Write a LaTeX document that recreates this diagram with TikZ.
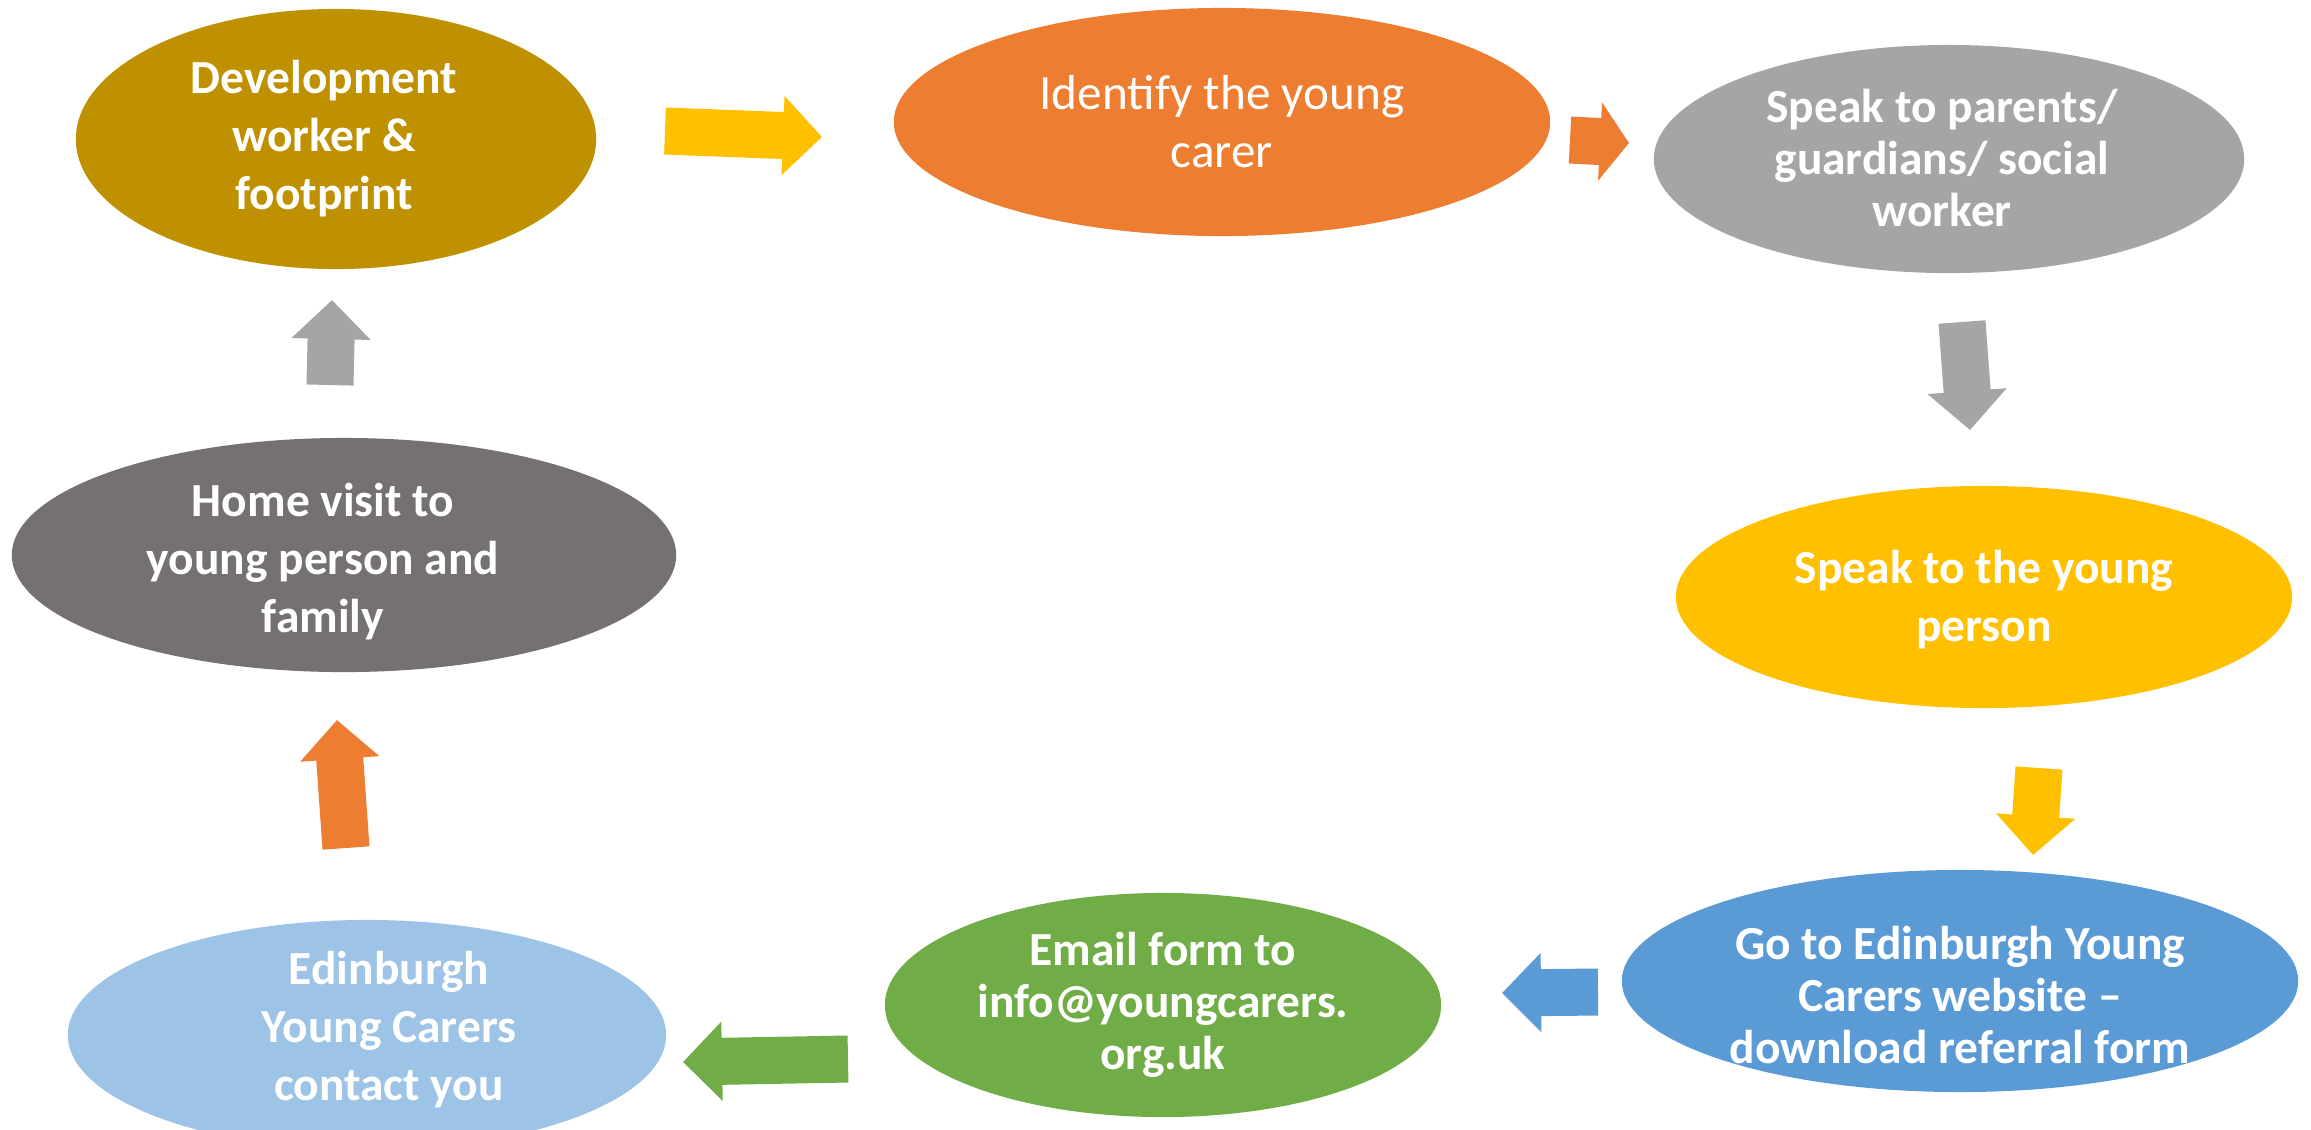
\documentclass[tikz,border=0pt]{standalone}
\usepackage{fontspec}
\setmainfont{Carlito}
\usetikzlibrary{shapes.geometric,arrows.meta}
\definecolor{gold}{HTML}{BF9000}
\definecolor{orange}{HTML}{ED7D31}
\definecolor{grey}{HTML}{A5A5A5}
\definecolor{amber}{HTML}{FFC000}
\definecolor{blue}{HTML}{5B9BD5}
\definecolor{green}{HTML}{70AD47}
\definecolor{lightblue}{HTML}{9DC3E6}
\definecolor{darkgrey}{HTML}{767171}

\begin{document}
\begin{tikzpicture}[x=0.01cm,y=-0.01cm,
    bubble/.style={ellipse, inner sep=0pt, outer sep=0pt},
    txt/.style={text=white, align=center, inner sep=0pt, font=\bfseries\fontsize{13.5}{16.5}\selectfont},
    txttight/.style={txt, font=\bfseries\fontsize{13.5}{14.7}\selectfont},
    blockarrow/.style={line width=4.7mm, -{Triangle[length=#1, width=7.7mm]}},
    blockarrow/.default=3.9mm]
    \clip (0,0) rectangle (2311,1129);

    % steps
    \node[bubble, fill=gold, minimum width=5.2cm, minimum height=2.6cm] (dev) at (336,139) {};
    \node[bubble, fill=orange, minimum width=6.56cm, minimum height=2.28cm] (idf) at (1222,122) {};
    \node[bubble, fill=grey, minimum width=5.9cm, minimum height=2.28cm] (spk) at (1949,159) {};
    \node[bubble, fill=amber, minimum width=6.16cm, minimum height=2.22cm] (ypn) at (1984,597) {};
    \node[bubble, fill=blue, minimum width=6.76cm, minimum height=2.22cm] (web) at (1960,981) {};
    \node[bubble, fill=green, minimum width=5.56cm, minimum height=2.24cm] (eml) at (1163,1005) {};
    \node[bubble, fill=lightblue, minimum width=5.98cm, minimum height=2.3cm] (eyc) at (367,1035) {};
    \node[bubble, fill=darkgrey, minimum width=6.64cm, minimum height=2.34cm] (hom) at (344,555) {};

    \node[txt] (devtxt) at ([xshift=-0.12cm]dev) {Development\\worker \&\\footprint};
    \node[txt, font=\fontsize{14}{16.5}\selectfont] (idftxt) at (idf) {Identify the young\\carer};
    \node[txttight] (spktxt) at ([xshift=-0.07cm,yshift=0.01cm]spk) {Speak to parents/\\guardians/ social\\worker};
    \node[txt] (ypntxt) at ([yshift=-0.03cm]ypn) {Speak to the young\\person};
    \node[txttight] (webtxt) at ([yshift=-0.14cm]web) {Go to Edinburgh Young\\Carers website –\\download referral form};
    \node[txttight] (emltxt) at (eml) {Email form to\\info@youngcarers.\\org.uk};
    \node[txt] (eyctxt) at ([xshift=0.22cm,yshift=0.05cm]eyc) {Edinburgh\\Young Carers\\contact you};
    \node[txt] (homtxt) at ([xshift=-0.21cm,yshift=-0.07cm]hom) {Home visit to\\young person and\\family};

    % arrows between steps
    \coordinate (a1s) at (665,131);  \coordinate (a1e) at (822,137);
    \coordinate (a2s) at (1570,140); \coordinate (a2e) at (1629,143);
    \coordinate (a3s) at (1962,322); \coordinate (a3e) at (1970,430);
    \coordinate (a4s) at (2039,768); \coordinate (a4e) at (2033,855);
    \coordinate (a5s) at (1598,992); \coordinate (a5e) at (1502,993);
    \coordinate (a6s) at (848,1059); \coordinate (a6e) at (683,1062);
    \coordinate (a7s) at (346,848);  \coordinate (a7e) at (337,720);
    \coordinate (a8s) at (330,385);  \coordinate (a8e) at (332,300);

    \draw[blockarrow, amber] (a1s) -- (a1e);
    \draw[blockarrow=2.9mm, orange] (a2s) -- (a2e);
    \draw[blockarrow, grey] (a3s) -- (a3e);
    \draw[blockarrow, amber] (a4s) -- (a4e);
    \draw[blockarrow, blue] (a5s) -- (a5e);
    \draw[blockarrow, green] (a6s) -- (a6e);
    \draw[blockarrow, orange] (a7s) -- (a7e);
    \draw[blockarrow, grey] (a8s) -- (a8e);
\end{tikzpicture}
\end{document}
